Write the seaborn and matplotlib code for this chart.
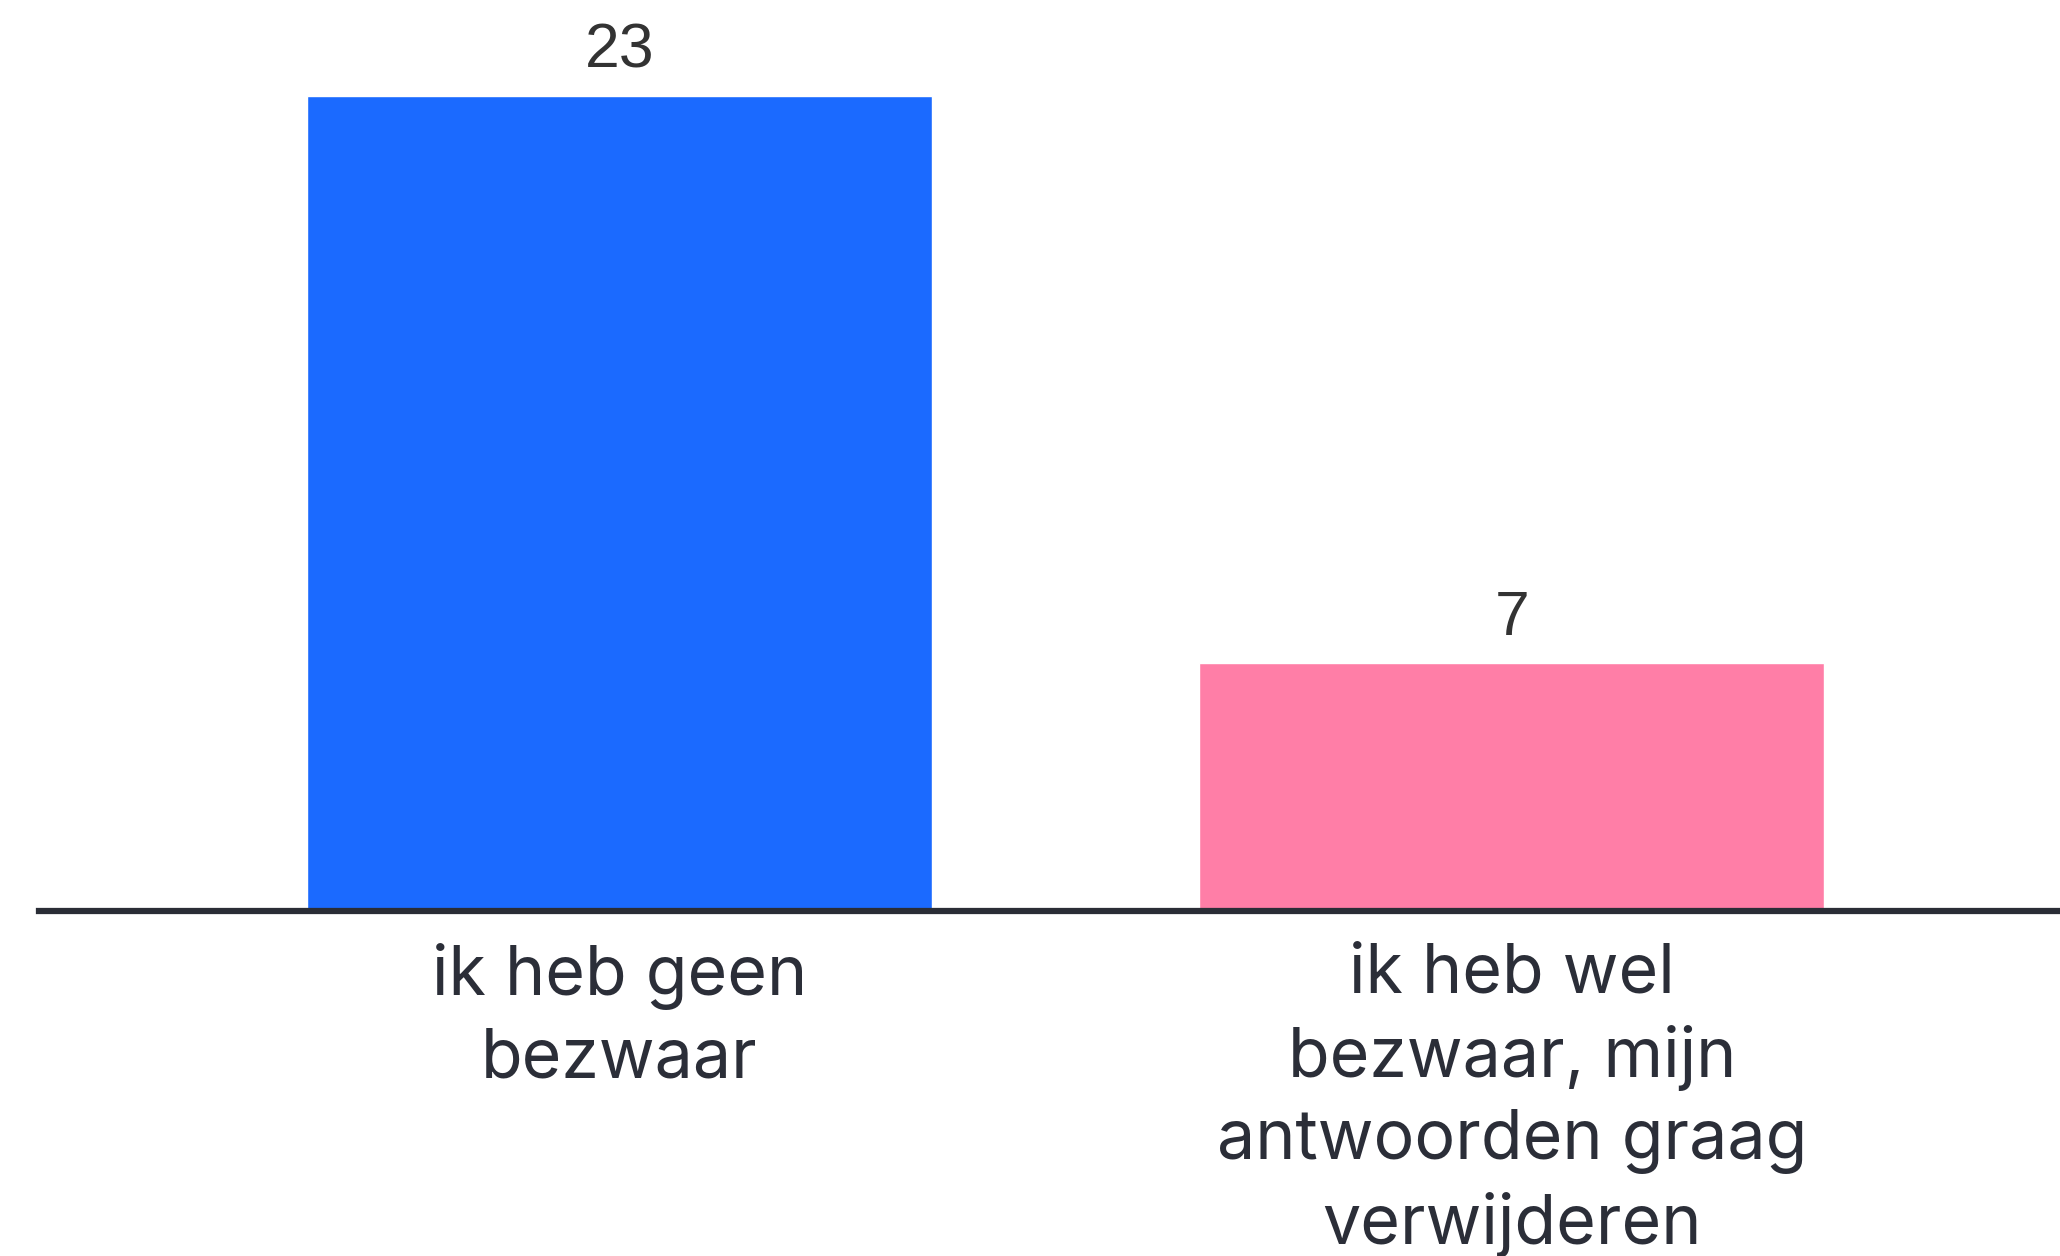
import matplotlib
matplotlib.use("Agg")
import matplotlib.pyplot as plt
import seaborn as sns
import pandas as pd

categories = ["ik heb geen\nbezwaar", "ik heb wel\nbezwaar, mijn\nantwoorden graag\nverwijderen"]
values = [23, 7]
colors = ["#1B6AFF", "#FF7EA7"]

df = pd.DataFrame({"cat": categories, "val": values})

sns.set_theme(style="white")
W, H = 2060, 1256
base = 911
fig = plt.figure(figsize=(W / 100, H / 100), dpi=100)
ax = fig.add_axes([39 / W, (H - base) / H, 1 - 39 / W, base / H])

sns.barplot(data=df, x="cat", y="val", hue="cat", palette=colors, width=0.7,
            legend=False, ax=ax, saturation=1)

ax.set_xlim(-0.65, 1.614)
ax.set_ylim(0, 25.7)
ax.set_xlabel("")
ax.set_ylabel("")
ax.set_yticks([])
for s in ["top", "right", "left"]:
    ax.spines[s].set_visible(False)
ax.spines["bottom"].set_color("#2a2d36")
ax.spines["bottom"].set_linewidth(4.5)

ax.tick_params(axis="x", length=0, pad=23)
for lab in ax.get_xticklabels():
    lab.set_fontfamily("Inter")
    lab.set_fontsize(49)
    lab.set_color("#2b2e38")
    lab.set_linespacing(1.35)

for i, v in enumerate(values):
    ax.annotate(str(v), (i, v), xytext=(0, 11), textcoords="offset points",
                ha="center", va="bottom", fontsize=45, color="#333333",
                family="Liberation Sans")

fig.savefig("out.png", dpi=100)
